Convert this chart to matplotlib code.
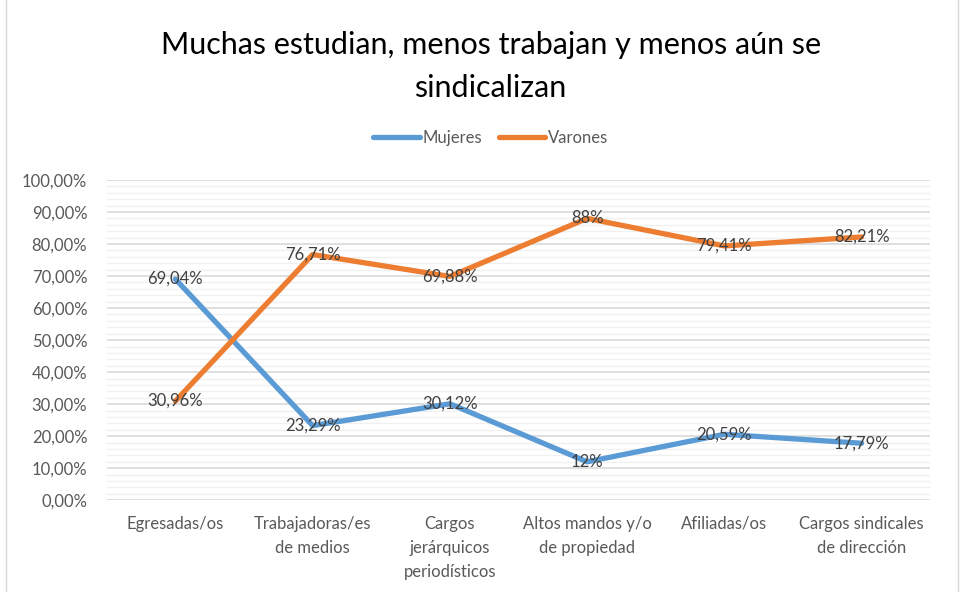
import matplotlib.pyplot as plt
from matplotlib.patches import Rectangle
from matplotlib.ticker import MultipleLocator, FuncFormatter

plt.rcParams['font.family'] = ['Lato', 'DejaVu Sans']

categorias = ["Egresadas/os", "Trabajadoras/es\nde medios", "Cargos\njerárquicos\nperiodísticos",
              "Altos mandos y/o\nde propiedad", "Afiliadas/os", "Cargos sindicales\nde dirección"]
mujeres = [69.04, 23.29, 30.12, 12.0, 20.59, 17.79]
varones = [30.96, 76.71, 69.88, 88.0, 79.41, 82.21]
etiq_mujeres = ["69,04%", "23,29%", "30,12%", "12%", "20,59%", "17,79%"]
etiq_varones = ["30,96%", "76,71%", "69,88%", "88%", "79,41%", "82,21%"]

azul = '#5B9BD5'
naranja = '#ED7D31'
gris = '#595959'

fig = plt.figure(figsize=(9.62, 5.92), dpi=100)
ax = fig.add_axes([0.111, 0.155, 0.856, 0.541])

x = list(range(len(categorias)))
ax.plot(x, mujeres, color=azul, lw=3.8, label='Mujeres', solid_capstyle='round', zorder=3)
ax.plot(x, varones, color=naranja, lw=3.8, label='Varones', solid_capstyle='round', zorder=3)

for i in x:
    ax.text(i, mujeres[i], etiq_mujeres[i], ha='center', va='center', fontsize=12, color='#404040', zorder=4)
    ax.text(i, varones[i], etiq_varones[i], ha='center', va='center', fontsize=12, color='#404040', zorder=4)

ax.set_xlim(-0.5, 5.5)
ax.set_ylim(0, 100)
ax.yaxis.set_major_locator(MultipleLocator(10))
ax.yaxis.set_minor_locator(MultipleLocator(2))
ax.yaxis.set_major_formatter(FuncFormatter(lambda v, p: f"{v:.2f}%".replace('.', ',')))
ax.grid(axis='y', which='major', color='#D9D9D9', lw=1.2, zorder=0)
ax.grid(axis='y', which='minor', color='#F0F0F0', lw=1.0, zorder=0)
ax.set_xticks(x)
ax.set_xticklabels(categorias, fontsize=12, color=gris, linespacing=1.65, va='top')
ax.tick_params(axis='y', labelsize=12, labelcolor=gris, length=0, pad=14)
ax.tick_params(axis='y', which='minor', length=0)
ax.tick_params(axis='x', length=0, pad=11)
for s in ax.spines.values():
    s.set_visible(False)

fig.text(0.51, 0.887, "Muchas estudian, menos trabajan y menos aún se\nsindicalizan",
         ha='center', va='center', fontsize=22, color='black', linespacing=1.65)

fig.legend(loc='center', bbox_to_anchor=(0.51, 0.767), ncol=2, frameon=False,
           fontsize=12, handlelength=2.8, columnspacing=1.0, handletextpad=0.15,
           labelcolor=gris)

fig.patches.append(Rectangle((0.006, -0.01), 0.99, 1.02, transform=fig.transFigure,
                             fill=False, edgecolor='#D9D9D9', lw=1))

fig.savefig('out.png', dpi=100, facecolor='white')
